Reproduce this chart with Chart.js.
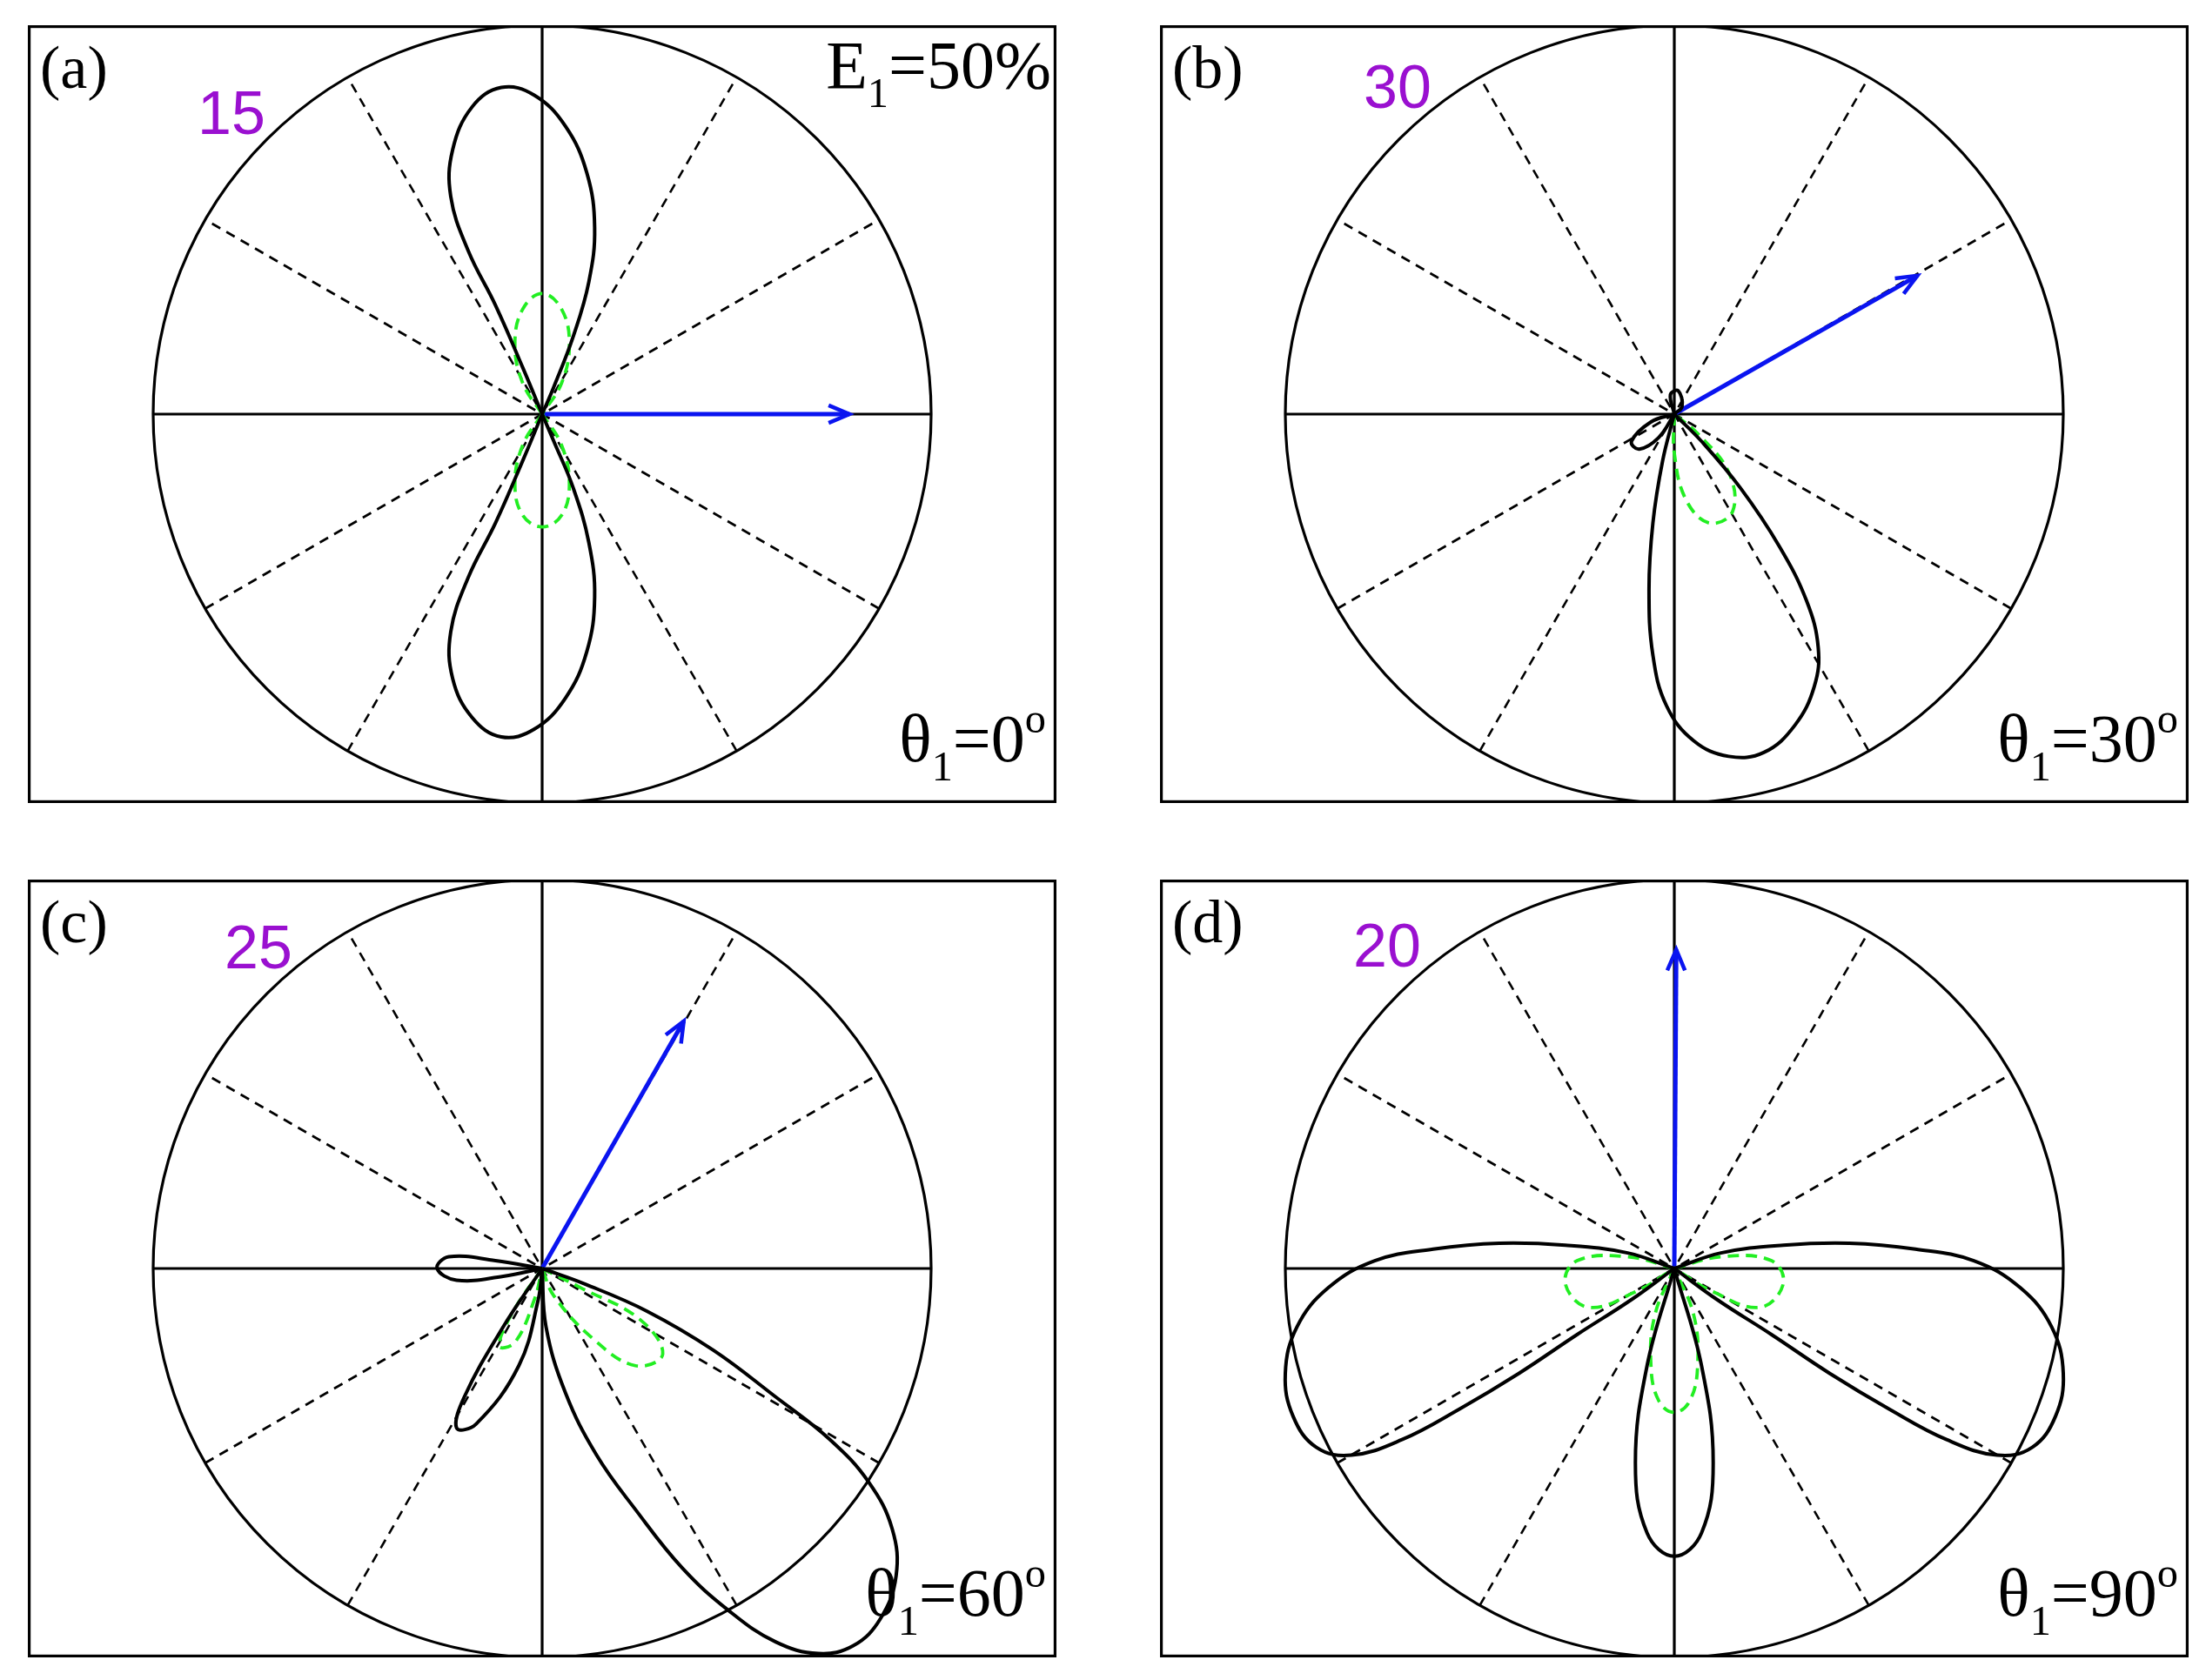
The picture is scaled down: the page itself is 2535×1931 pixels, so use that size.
<!DOCTYPE html>
<html>
<head>
<meta charset="utf-8">
<script src="https://cdn.jsdelivr.net/npm/chart.js@4.4.1/dist/chart.umd.min.js"></script>
<style>
  body { margin: 0; background: #fff; width: 2535px; height: 1931px; position: relative; overflow: hidden; }
  .box { position: absolute; width: 1182px; height: 894px; }
  canvas { display: block; }
</style>
</head>
<body>
<div class="box" style="left:32px;top:29px"><canvas id="pa"></canvas></div>
<div class="box" style="left:1333px;top:29px"><canvas id="pb"></canvas></div>
<div class="box" style="left:32px;top:1011px"><canvas id="pc"></canvas></div>
<div class="box" style="left:1333px;top:1011px"><canvas id="pd"></canvas></div>
<script>
// traced curves, unit = circle radius, [x, y]
const aBlack1 = [[0,0],[-0.05,0.12],[-0.12,0.28],[-0.19,0.42],[-0.235,0.56],[-0.23,0.68],[-0.18,0.79],[-0.105,0.84],[-0.02,0.82],[0.06,0.74],[0.115,0.62],[0.135,0.48],[0.12,0.34],[0.08,0.20],[0.03,0.07],[0,0]];
const aBlack2 = [[0,0],[-0.05,-0.12],[-0.12,-0.28],[-0.19,-0.42],[-0.235,-0.56],[-0.23,-0.68],[-0.18,-0.78],[-0.105,-0.83],[-0.02,-0.81],[0.06,-0.73],[0.115,-0.61],[0.135,-0.47],[0.12,-0.33],[0.08,-0.19],[0.03,-0.07],[0,0]];
const aGreen1 = [[0,0],[-0.05,0.08],[-0.07,0.18],[-0.05,0.27],[0,0.31],[0.05,0.27],[0.07,0.18],[0.05,0.08],[0,0]];
const aGreen2 = [[0,0],[-0.05,-0.08],[-0.07,-0.18],[-0.05,-0.26],[0,-0.29],[0.05,-0.26],[0.07,-0.18],[0.05,-0.08],[0,0]];
const aArrow = [[0,0],[0.79,0]];

const bBlack1 = [[0,0],[-0.03,-0.12],[-0.055,-0.28],[-0.065,-0.45],[-0.055,-0.62],[-0.02,-0.75],[0.05,-0.84],[0.14,-0.88],[0.23,-0.87],[0.31,-0.80],[0.36,-0.70],[0.37,-0.60],[0.34,-0.48],[0.27,-0.34],[0.17,-0.19],[0.07,-0.07],[0,0]];
const bBlack2 = [[0,0],[-0.06,-0.02],[-0.11,-0.07],[-0.09,-0.09],[-0.04,-0.06],[0,0]];
const bBlack3 = [[0,0],[-0.01,0.05],[0.01,0.06],[0.02,0.02],[0,0]];
const bGreen1 = [[0,0],[0.0,-0.10],[0.03,-0.22],[0.09,-0.28],[0.15,-0.25],[0.14,-0.15],[0.06,-0.05],[0,0]];
const bArrow = [[0,0],[0.625,0.356]];

const cBlack1 = [[0,0],[0.01,-0.15],[0.06,-0.32],[0.14,-0.48],[0.24,-0.62],[0.36,-0.77],[0.48,-0.88],[0.60,-0.96],[0.71,-0.99],[0.80,-0.97],[0.87,-0.90],[0.91,-0.79],[0.90,-0.67],[0.84,-0.55],[0.74,-0.44],[0.60,-0.33],[0.44,-0.21],[0.27,-0.11],[0.11,-0.04],[0,0]];
const cBlack2 = [[0,0],[-0.12,0.02],[-0.24,0.03],[-0.27,0.0],[-0.22,-0.03],[-0.10,-0.02],[0,0]];
const cBlack3 = [[0,0],[-0.10,-0.15],[-0.20,-0.33],[-0.22,-0.41],[-0.17,-0.40],[-0.06,-0.25],[-0.01,-0.08],[0,0]];
const cGreen1 = [[0,0],[0.10,-0.05],[0.25,-0.13],[0.31,-0.22],[0.24,-0.25],[0.13,-0.18],[0.03,-0.07],[0,0]];
const cGreen2 = [[0,0],[-0.08,-0.12],[-0.11,-0.20],[-0.07,-0.19],[-0.02,-0.08],[0,0]];
const cArrow = [[0,0],[0.364,0.636]];

const dBlack1 = [[0,0],[-0.12,0.04],[-0.28,0.06],[-0.45,0.065],[-0.62,0.05],[-0.77,0.02],[-0.89,-0.05],[-0.97,-0.15],[-1.0,-0.27],[-0.98,-0.38],[-0.92,-0.46],[-0.83,-0.48],[-0.70,-0.44],[-0.55,-0.36],[-0.40,-0.27],[-0.25,-0.17],[-0.11,-0.08],[0,0]];
const dBlack2 = [[0,0],[0.12,0.04],[0.28,0.06],[0.45,0.065],[0.62,0.05],[0.77,0.02],[0.89,-0.05],[0.97,-0.15],[1.0,-0.27],[0.98,-0.38],[0.92,-0.46],[0.83,-0.48],[0.70,-0.44],[0.55,-0.36],[0.40,-0.27],[0.25,-0.17],[0.11,-0.08],[0,0]];
const dBlack3 = [[0,0],[-0.07,-0.25],[-0.10,-0.50],[-0.07,-0.68],[0,-0.74],[0.07,-0.68],[0.10,-0.50],[0.07,-0.25],[0,0]];
const dGreen1 = [[0,0],[-0.12,0.03],[-0.25,0.02],[-0.28,-0.04],[-0.22,-0.10],[-0.10,-0.06],[0,0]];
const dGreen2 = [[0,0],[0.12,0.03],[0.25,0.02],[0.28,-0.04],[0.22,-0.10],[0.10,-0.06],[0,0]];
const dGreen3 = [[0,0],[-0.05,-0.12],[-0.06,-0.25],[-0.04,-0.34],[0,-0.37],[0.04,-0.34],[0.06,-0.25],[0.05,-0.12],[0,0]];
const dArrow = [[0,0],[0.005,0.82]];

const panelLetters = ['(a)', '(b)', '(c)', '(d)'];
const purpleLabels = ['15', '30', '25', '20'];
const thetaValues = ['0', '30', '60', '90'];
const spokeAngles = [30, 60, 120, 150];

const XR = 1182 / 2 / 447, YR = 894 / 2 / 447;
const GREEN = '#22ee22', BLUE = '#0a14f0', PURPLE = '#9a10d0';

function pts(arr) { return arr.map(([x, y]) => ({ x, y })); }

function richText(ctx, parts, x, y, size, align) {
  // parts: [text, 'n'|'sub'|'sup']
  const fontFor = (t) => (t === 'n' ? size : size * 0.62) + 'px "Liberation Serif", "Times New Roman", serif';
  let total = 0;
  parts.forEach(([s, t]) => { ctx.font = fontFor(t); total += ctx.measureText(s).width; });
  let cx = align === 'right' ? x - total : x;
  parts.forEach(([s, t]) => {
    ctx.font = fontFor(t);
    const dy = t === 'sub' ? size * 0.28 : t === 'sup' ? -size * 0.42 : 0;
    ctx.fillText(s, cx, y + dy);
    cx += ctx.measureText(s).width;
  });
}

const framePlugin = {
  id: 'frame',
  beforeDatasetsDraw(chart, args, opts) {
    const { ctx, chartArea: a, scales: { x, y } } = chart;
    const cx = x.getPixelForValue(0), cy = y.getPixelForValue(0);
    const r = x.getPixelForValue(1) - cx;
    ctx.save();
    ctx.beginPath();
    ctx.rect(a.left, a.top, a.right - a.left, a.bottom - a.top);
    ctx.clip();
    ctx.strokeStyle = '#000';
    ctx.lineWidth = 3.2;
    ctx.beginPath(); ctx.arc(cx, cy, r, 0, Math.PI * 2); ctx.stroke();
    ctx.beginPath();
    ctx.moveTo(cx - r, cy); ctx.lineTo(cx + r, cy);
    ctx.moveTo(cx, cy - r); ctx.lineTo(cx, cy + r);
    ctx.stroke();
    ctx.lineWidth = 2.6;
    ctx.setLineDash([11, 8]);
    spokeAngles.forEach((deg) => {
      const t = deg * Math.PI / 180;
      ctx.beginPath();
      ctx.moveTo(cx - r * Math.cos(t), cy + r * Math.sin(t));
      ctx.lineTo(cx + r * Math.cos(t), cy - r * Math.sin(t));
      ctx.stroke();
    });
    ctx.restore();
  },
  afterDatasetsDraw(chart, args, opts) {
    const { ctx, chartArea: a } = chart;
    ctx.save();
    const meta = chart.getDatasetMeta(chart.data.datasets.length - 1);
    const p0 = meta.data[0], p1 = meta.data[1];
    const ang = Math.atan2(p1.y - p0.y, p1.x - p0.x);
    ctx.strokeStyle = BLUE; ctx.lineWidth = 4.5;
    ctx.beginPath();
    ctx.moveTo(p1.x - 26 * Math.cos(ang - 0.4), p1.y - 26 * Math.sin(ang - 0.4));
    ctx.lineTo(p1.x, p1.y);
    ctx.lineTo(p1.x - 26 * Math.cos(ang + 0.4), p1.y - 26 * Math.sin(ang + 0.4));
    ctx.stroke();
    ctx.strokeStyle = '#000'; ctx.lineWidth = 3.2;
    ctx.strokeRect(a.left + 1.6, a.top + 1.6, a.right - a.left - 3.2, a.bottom - a.top - 3.2);
    ctx.fillStyle = '#000';
    ctx.textBaseline = 'alphabetic';
    richText(ctx, [[opts.letter, 'n']], a.left + 14, a.top + 72, 70, 'left');
    ctx.font = '70px "Liberation Sans", Arial, sans-serif';
    ctx.fillStyle = PURPLE;
    ctx.fillText(opts.purple, opts.purpleX, a.top + opts.purpleY);
    ctx.fillStyle = '#000';
    richText(ctx, [['θ', 'n'], ['1', 'sub'], ['=' + opts.theta, 'n'], ['o', 'sup']], a.right - 12, a.top + 846, 78, 'right');
    if (opts.energy) richText(ctx, [['E', 'n'], ['1', 'sub'], ['=50%', 'n']], a.right - 6, a.top + 72, 78, 'right');
    ctx.restore();
  }
};

function makePanel(id, idx, blacks, greens, arrow, purpleX, purpleY) {
  const datasets = [];
  blacks.forEach((b) => datasets.push({ data: pts(b), borderColor: '#000', borderWidth: 4, tension: 0.4 }));
  greens.forEach((g) => datasets.push({ data: pts(g), borderColor: GREEN, borderWidth: 3.8, borderDash: [13, 8], tension: 0.4 }));
  datasets.push({ data: pts(arrow), borderColor: BLUE, borderWidth: 5, tension: 0 });
  datasets.forEach((d) => { d.showLine = true; d.pointRadius = 0; d.fill = false; });
  new Chart(document.getElementById(id), {
    type: 'scatter',
    data: { datasets },
    options: {
      responsive: true,
      maintainAspectRatio: false,
      devicePixelRatio: 1,
      animation: false,
      layout: { padding: 0 },
      scales: {
        x: { type: 'linear', min: -XR, max: XR, display: false },
        y: { type: 'linear', min: -YR, max: YR, display: false },
      },
      plugins: {
        legend: { display: false },
        tooltip: { enabled: false },
        frame: { letter: panelLetters[idx], purple: purpleLabels[idx], theta: thetaValues[idx], energy: idx === 0, purpleX, purpleY },
      },
    },
    plugins: [framePlugin],
  });
}

makePanel('pa', 0, [aBlack1, aBlack2], [aGreen1, aGreen2], aArrow, 195, 125);
makePanel('pb', 1, [bBlack1, bBlack2, bBlack3], [bGreen1], bArrow, 234, 95);
makePanel('pc', 2, [cBlack1, cBlack2, cBlack3], [cGreen1, cGreen2], cArrow, 226, 102);
makePanel('pd', 3, [dBlack1, dBlack2, dBlack3], [dGreen1, dGreen2, dGreen3], dArrow, 222, 100);
</script>
</body>
</html>
